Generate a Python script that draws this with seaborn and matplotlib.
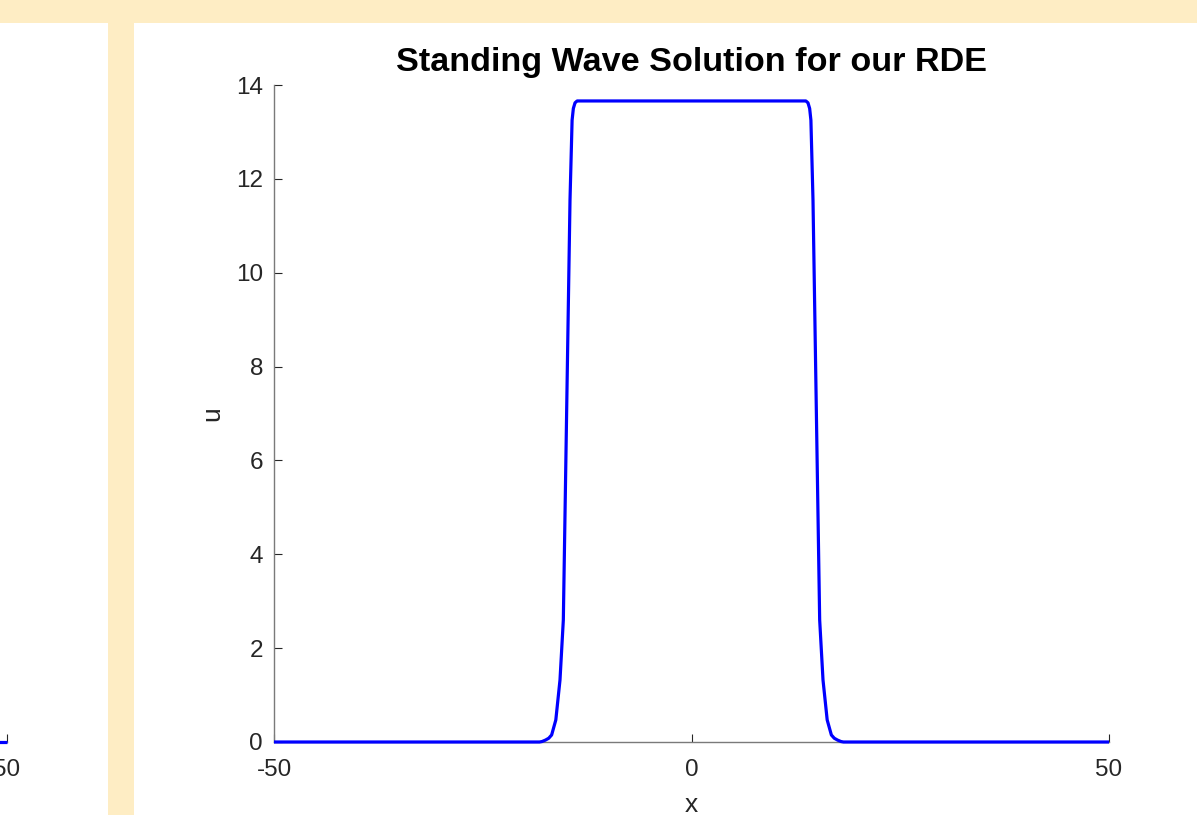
import matplotlib
matplotlib.use("Agg")
import matplotlib.pyplot as plt
import seaborn as sns
import pandas as pd
from matplotlib.patches import Rectangle

# Data
x_vals = [-50, -20, -18.2, -17.9, -17.5, -17.1, -16.75, -16.25, -15.75, -15.35,
          -14.95, -14.55, -14.3, -14.15, -13.95, -13.7, 0,
          13.7, 13.95, 14.15, 14.3, 14.55, 14.95, 15.35, 15.75, 16.25, 16.75,
          17.1, 17.5, 17.9, 18.2, 20, 50]
u_vals = [0, 0, 0, 0.01, 0.04, 0.08, 0.15, 0.47, 1.32, 2.6,
          7.07, 11.55, 13.25, 13.5, 13.62, 13.66, 13.66,
          13.66, 13.62, 13.5, 13.25, 11.55, 7.07, 2.6, 1.32, 0.47, 0.15,
          0.08, 0.04, 0.01, 0, 0, 0]
x_ticks = [-50, 0, 50]
y_ticks = [0, 2, 4, 6, 8, 10, 12, 14]
title_text = "Standing Wave Solution for our RDE"

df = pd.DataFrame({"x": x_vals, "u": u_vals})

sns.set_theme(style="white")
plt.rcParams["font.family"] = ["Liberation Sans", "DejaVu Sans"]

W, H = 1197, 815
cream = "#FEEDC4"
fig = plt.figure(figsize=(W / 100, H / 100), dpi=100, facecolor=cream)

# white panels (behind the axes)
fig.patches.append(Rectangle((0, 0), 108 / W, (H - 23) / H, transform=fig.transFigure,
                             facecolor="white", edgecolor="none", zorder=-10))
fig.patches.append(Rectangle((134 / W, 0), (W - 134) / W, (H - 23) / H, transform=fig.transFigure,
                             facecolor="white", edgecolor="none", zorder=-10))

axc = "#262626"
spc = "#7a7a7a"

def style_axes(ax):
    ax.set_facecolor("none")
    ax.set_xlim(-50, 50)
    ax.set_ylim(0, 14)
    ax.set_xticks(x_ticks)
    ax.set_yticks(y_ticks)
    ax.set_xticklabels([str(t) for t in x_ticks])
    ax.set_yticklabels([str(t) for t in y_ticks])
    for s in ["top", "right"]:
        ax.spines[s].set_visible(False)
    for s in ["left", "bottom"]:
        ax.spines[s].set_color(spc)
        ax.spines[s].set_linewidth(1.0)
    ax.tick_params(bottom=True, left=True, direction="in", length=6, width=0.8,
                   color=axc, labelsize=17.5, labelcolor=axc)
    ax.tick_params(axis="x", pad=12)
    ax.tick_params(axis="y", pad=8)

axw = 835 / W
axh = 657 / H
axb = (H - 742) / H

# partially visible left panel
ax0 = fig.add_axes([(7 - 835) / W, axb, axw, axh])
sns.lineplot(data=df, x="x", y="u", ax=ax0, color="#0000FF", linewidth=2.3,
             estimator=None, sort=False)
style_axes(ax0)
ax0.set_xlabel("")
ax0.set_ylabel("")

# main panel
ax = fig.add_axes([274 / W, axb, axw, axh])
sns.lineplot(data=df, x="x", y="u", ax=ax, color="#0000FF", linewidth=2.3,
             estimator=None, sort=False)
style_axes(ax)
for l in ax.lines + ax0.lines:
    l.set_solid_joinstyle("round")
    l.set_solid_capstyle("butt")
    l.set_clip_on(False)
    l.set_zorder(3)
ax.set_title(title_text, fontsize=24.6, fontweight="bold", color="black", pad=10)
ax.set_xlabel("x", fontsize=19, color=axc, labelpad=9)
ax.set_ylabel("u", fontsize=19, color=axc, labelpad=8)

fig.savefig("out.png", dpi=100, facecolor=cream)
